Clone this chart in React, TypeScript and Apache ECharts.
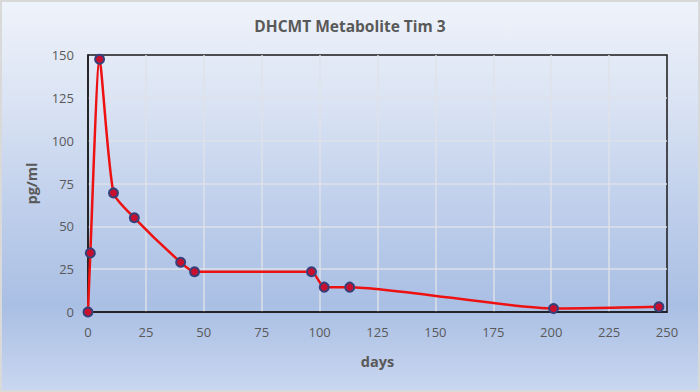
import React, { useEffect, useRef } from "react";
import * as echarts from "echarts";

const days = [0, 1, 5, 11, 20, 40, 46, 96.5, 102, 113, 201, 246.5];
const values = [0, 34.5, 147.5, 69.5, 55, 29, 23.5, 23.5, 14.5, 14.5, 2, 3];
const xTicks = { min: 0, max: 250, interval: 25 };
const yTicks = { min: 0, max: 150, interval: 25 };

export default function App() {
  const ref = useRef<HTMLDivElement>(null);
  useEffect(() => {
    document.body.style.margin = "0";
    const chart = echarts.init(ref.current!, null, { renderer: "svg" });
    const font = "Open Sans";
    const split = { show: true, showMinLine: false, showMaxLine: false, lineStyle: { color: "rgba(222,226,232,0.95)", width: 1.5 } };
    chart.setOption({
      animation: false,
      backgroundColor: "transparent",
      title: {
        text: "DHCMT Metabolite Tim 3",
        left: "center",
        top: 13,
        textStyle: { fontFamily: font, fontSize: 15.5, fontWeight: "bold", color: "#595959" },
      },
      grid: {
        left: 88,
        right: 33,
        top: 55,
        bottom: 80,
        show: true,
        borderColor: "#1a1a1a",
        borderWidth: 1.5,
        backgroundColor: "transparent",
      },
      xAxis: {
        type: "value",
        min: xTicks.min,
        max: xTicks.max,
        interval: xTicks.interval,
        name: "days",
        nameLocation: "middle",
        nameGap: 42,
        nameTextStyle: { fontFamily: font, fontSize: 14.5, fontWeight: "bold", color: "#595959" },
        axisLine: { show: true, lineStyle: { color: "#1a1a1a", width: 1.5 } },
        axisTick: { show: false },
        axisLabel: { fontFamily: font, fontSize: 13, color: "#595959", margin: 13 },
        splitLine: split,
      },
      yAxis: {
        type: "value",
        min: yTicks.min,
        max: yTicks.max,
        interval: yTicks.interval,
        name: "pg/ml",
        nameLocation: "middle",
        nameGap: 49,
        nameRotate: 90,
        nameTextStyle: { fontFamily: font, fontSize: 14.5, fontWeight: "bold", color: "#595959" },
        axisLine: { show: true, lineStyle: { color: "#1a1a1a", width: 1.5 } },
        axisTick: { show: false },
        axisLabel: { fontFamily: font, fontSize: 13, color: "#595959", margin: 14 },
        splitLine: split,
      },
      series: [
        {
          type: "line",
          data: days.map((d, i) => [d, values[i]]),
          smooth: 0.2,
          symbol: "circle",
          symbolSize: 9,
          lineStyle: { color: "#ee1111", width: 2.5 },
          itemStyle: { color: "#c8102e", borderColor: "#36407a", borderWidth: 2 },
          z: 3,
        },
      ],
    });
    return () => chart.dispose();
  }, []);
  return (
    <div
      style={{
        position: "absolute",
        left: 0,
        top: 0,
        width: 700,
        height: 392,
        boxSizing: "border-box",
        border: "2px solid #d9d9d9",
        background:
          "linear-gradient(to bottom, #eff3fa 0%, #dbe4f4 25%, #c2d1ec 50%, #a9bfe4 78%, #c9d6ef 100%)",
      }}
    >
      <div ref={ref} style={{ position: "absolute", left: -2, top: -2, width: 700, height: 392 }} />
    </div>
  );
}
